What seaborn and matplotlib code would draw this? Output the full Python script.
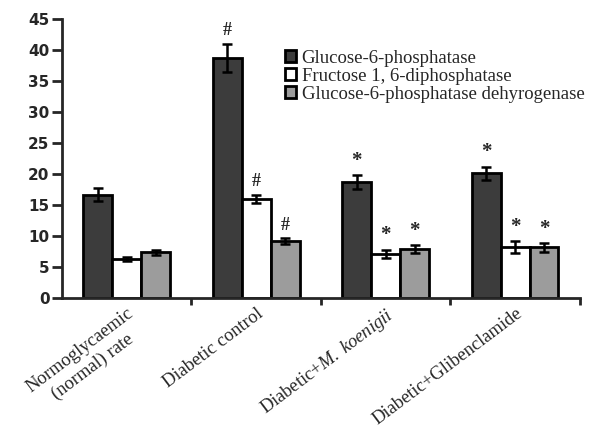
import numpy as np
import pandas as pd
import seaborn as sns
import matplotlib.pyplot as plt

sns.set_style("ticks")
plt.rcParams['font.family'] = ['Liberation Serif', 'DejaVu Serif']
plt.rcParams['mathtext.fontset'] = 'custom'
plt.rcParams['mathtext.rm'] = 'Liberation Serif'
plt.rcParams['mathtext.it'] = 'Liberation Serif:italic'

groups = ['Normoglycaemic\n(normal) rate', 'Diabetic control',
          'Diabetic+$\\it{M.\\ koenigii}$', 'Diabetic+Glibenclamide']
enzymes = ['Glucose-6-phosphatase', 'Fructose 1, 6-diphosphatase',
           'Glucose-6-phosphatase dehyrogenase']
g6p = [16.7, 38.7, 18.7, 20.1]
g6p_err = [1.0, 2.3, 1.1, 1.1]
fdp = [6.3, 16.0, 7.1, 8.2]
fdp_err = [0.3, 0.7, 0.7, 1.0]
g6pd = [7.4, 9.2, 7.9, 8.2]
g6pd_err = [0.4, 0.5, 0.6, 0.7]
marks = ['', '#', '*', '*']

df = pd.DataFrame({
    'group': groups * 3,
    'enzyme': np.repeat(enzymes, 4),
    'value': g6p + fdp + g6pd,
    'err': g6p_err + fdp_err + g6pd_err,
})

fig = plt.figure(figsize=(5.99, 4.32), dpi=100)
ax = fig.add_axes([0.1035, 0.31, 0.8645, 0.646])

colors = ['#3c3c3c', '#ffffff', '#9c9c9c']
sns.barplot(data=df, x='group', y='value', hue='enzyme', palette=colors,
            errorbar=None, width=0.67, edgecolor='black', linewidth=2,
            ax=ax, saturation=1)

# error bars and significance marks
bw = 0.67 / 3
for j, e in enumerate(enzymes):
    sub = df[df['enzyme'] == e]
    xs = np.arange(4) + (j - 1) * bw
    ax.errorbar(xs, sub['value'], yerr=sub['err'], fmt='none', ecolor='black',
                elinewidth=1.8, capsize=3.5, capthick=1.8)
    for x, v, er, m in zip(xs, sub['value'], sub['err'], marks):
        if m:
            ax.text(x, v + er + 0.7, m, ha='center', va='bottom',
                    fontsize=13 if m == '#' else 15, fontweight='bold')

ax.set_ylim(0, 45)
ax.set_xlim(-0.5, 3.5)
ax.set_yticks(range(0, 46, 5))
ax.set_yticklabels([str(v) for v in range(0, 46, 5)],
                   family='DejaVu Sans', fontweight='bold', fontsize=11)
ax.set_xticks([0.5, 1.5, 2.5, 3.5])
ax.set_xticklabels([])
ax.set_xticks(range(4), minor=True)
ax.set_xticklabels(groups, minor=True, rotation=37, ha='right',
                   rotation_mode='anchor', fontsize=13.3,
                   multialignment='center')
ax.tick_params(axis='x', which='minor', length=0, pad=5)
ax.tick_params(axis='x', which='major', length=5, width=2)
ax.tick_params(axis='y', length=7, width=2, pad=2)
ax.set_xlabel('')
ax.set_ylabel('')
for s in ['left', 'bottom']:
    ax.spines[s].set_linewidth(2)
sns.despine(ax=ax)

ax.legend(loc='upper left', bbox_to_anchor=(0.43, 0.89), frameon=False,
          fontsize=13.5, handlelength=0.6, handleheight=0.6, handletextpad=0.3,
          labelspacing=0.05, borderaxespad=0, borderpad=0)

fig.savefig('out.png', dpi=100)
